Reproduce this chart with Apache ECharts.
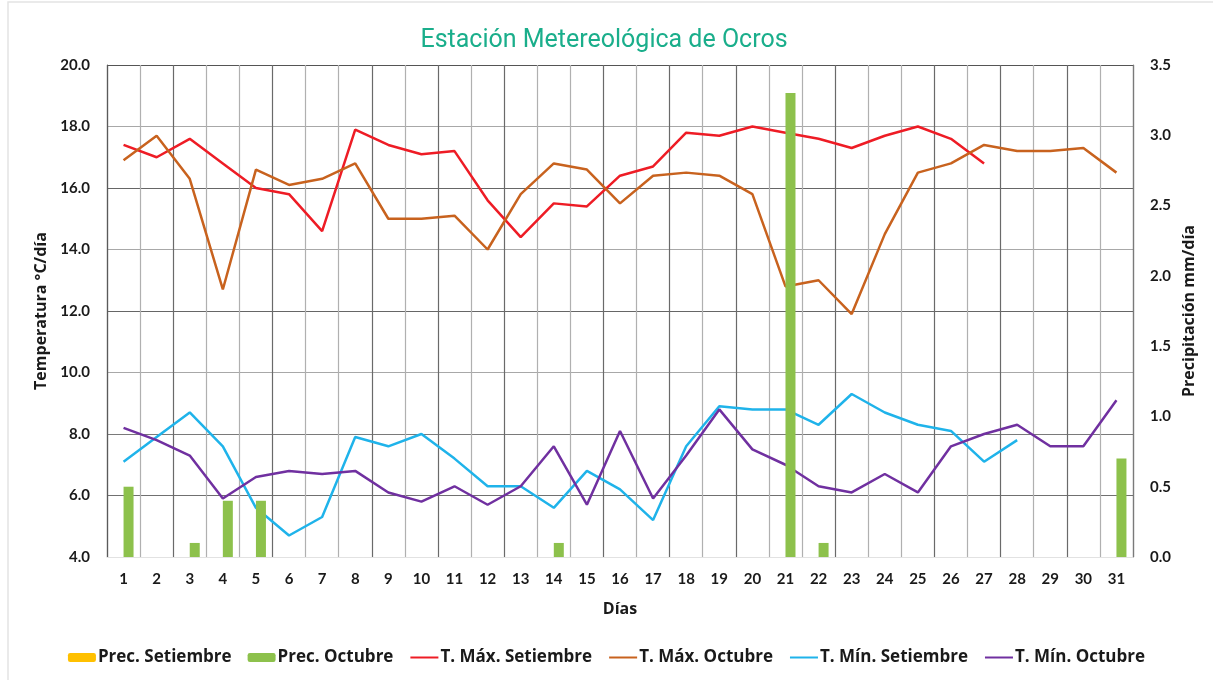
<!DOCTYPE html>
<html>
<head>
<meta charset="utf-8">
<title>Estación Metereológica de Ocros</title>
<script src="https://cdn.jsdelivr.net/npm/echarts@6/dist/echarts.min.js"></script>
<style>
  html, body { margin: 0; padding: 0; background: #fff; }
  #chart { width: 1213px; height: 680px; }
</style>
</head>
<body>
<div id="chart"></div>
<script>
// días del mes
const dias = ['1', '2', '3', '4', '5', '6', '7', '8', '9', '10', '11', '12', '13', '14', '15', '16',
  '17', '18', '19', '20', '21', '22', '23', '24', '25', '26', '27', '28', '29', '30', '31']

// precipitación mm/día
const precSetiembre = [0, 0, 0, 0, 0, 0, 0, 0, 0, 0, 0, 0, 0, 0, 0, 0,
  0, 0, 0, 0, 0, 0, 0, 0, 0, 0, 0, 0, 0, 0, 0]
const precOctubre = [0.5, 0, 0.1, 0.4, 0.4, 0, 0, 0, 0, 0, 0, 0, 0, 0.1, 0, 0,
  0, 0, 0, 0, 3.3, 0.1, 0, 0, 0, 0, 0, 0, 0, 0, 0.7]

// temperatura °C/día
const tMaxSetiembre = [17.4, 17.0, 17.6, 16.8, 16.0, 15.8, 14.6, 17.9, 17.4, 17.1, 17.2, 15.6, 14.4, 15.5, 15.4, 16.4,
  16.7, 17.8, 17.7, 18.0, 17.8, 17.6, 17.3, 17.7, 18.0, 17.6, 16.8, null, null, null, null]
const tMaxOctubre = [16.9, 17.7, 16.3, 12.7, 16.6, 16.1, 16.3, 16.8, 15.0, 15.0, 15.1, 14.0, 15.8, 16.8, 16.6, 15.5,
  16.4, 16.5, 16.4, 15.8, 12.8, 13.0, 11.9, 14.5, 16.5, 16.8, 17.4, 17.2, 17.2, 17.3, 16.5]
const tMinSetiembre = [7.1, 7.9, 8.7, 7.6, 5.6, 4.7, 5.3, 7.9, 7.6, 8.0, 7.2, 6.3, 6.3, 5.6, 6.8, 6.2,
  5.2, 7.6, 8.9, 8.8, 8.8, 8.3, 9.3, 8.7, 8.3, 8.1, 7.1, 7.8, null, null, null]
const tMinOctubre = [8.2, 7.8, 7.3, 5.9, 6.6, 6.8, 6.7, 6.8, 6.1, 5.8, 6.3, 5.7, 6.3, 7.6, 5.7, 8.1,
  5.9, 7.3, 8.8, 7.5, 7.0, 6.3, 6.1, 6.7, 6.1, 7.6, 8.0, 8.3, 7.6, 7.6, 9.1]

const fuente = 'Lato, "Open Sans", sans-serif'
const fuenteAncha = '"Open Sans", Lato, sans-serif'

// líneas verticales: unas más oscuras que otras, como en la imagen
const oscuras = [0, 2, 5, 8, 10, 12, 15, 17, 19, 22, 25, 27, 29, 31]
const coloresV = []
for (let i = 0; i <= 31; i++) {
  coloresV.push(oscuras.indexOf(i) >= 0 ? '#6a6a6a' : '#b0b0b0')
}

const chart = echarts.init(document.getElementById('chart'))

function linea(nombre, datos, color) {
  return {
    name: nombre,
    type: 'line',
    yAxisIndex: 0,
    data: datos,
    symbol: 'none',
    connectNulls: false,
    lineStyle: { color: color, width: 2.5 },
    itemStyle: { color: color },
    z: 2
  }
}

// en la leyenda las líneas van sin punto
const sinPunto = { opacity: 0 }

chart.setOption({
  animation: false,
  backgroundColor: '#fff',
  graphic: [{
    type: 'rect',
    shape: { x: 8, y: 2, width: 1220, height: 700 },
    style: { fill: 'none', stroke: '#e4e4e4', lineWidth: 1.5 },
    silent: true
  }],
  title: {
    text: 'Estación Metereológica de Ocros',
    left: 599,
    textAlign: 'center',
    top: 23,
    textStyle: { color: '#1aae8b', fontSize: 25, fontWeight: 'normal', fontFamily: 'Roboto, sans-serif' }
  },
  legend: {
    bottom: 9,
    left: 'center',
    itemWidth: 28,
    itemHeight: 9,
    itemGap: 16,
    data: [
      { name: 'Prec. Setiembre' },
      { name: 'Prec. Octubre' },
      { name: 'T. Máx. Setiembre', itemStyle: sinPunto },
      { name: 'T. Máx. Octubre', itemStyle: sinPunto },
      { name: 'T. Mín. Setiembre', itemStyle: sinPunto },
      { name: 'T. Mín. Octubre', itemStyle: sinPunto }
    ],
    textStyle: { color: '#1a1a1a', fontSize: 17, fontWeight: 'bold', fontFamily: fuenteAncha, padding: [0, 0, 0, -3] }
  },
  grid: { left: 107, right: 80, top: 65, bottom: 123 },
  xAxis: {
    type: 'category',
    data: dias,
    name: 'Días',
    nameLocation: 'middle',
    nameGap: 44,
    nameTextStyle: { color: '#1a1a1a', fontSize: 16, fontWeight: 'bold', fontFamily: fuenteAncha },
    axisLine: { lineStyle: { color: '#e2e2e2' } },
    axisTick: { show: false },
    axisLabel: { color: '#1a1a1a', fontSize: 15, fontWeight: 'bold', fontFamily: fuente, margin: 15 },
    splitLine: { show: true, interval: 0, lineStyle: { color: coloresV, width: 1.2 } }
  },
  yAxis: [{
    type: 'value',
    min: 4,
    max: 20,
    interval: 2,
    name: 'Temperatura °C/día',
    nameLocation: 'middle',
    nameRotate: 90,
    nameGap: 57,
    nameTextStyle: { color: '#1a1a1a', fontSize: 16, fontWeight: 'bold', fontFamily: fuenteAncha },
    axisLine: { show: true, lineStyle: { color: '#5a5a5a', width: 1.2 } },
    axisTick: { show: false },
    axisLabel: {
      color: '#1a1a1a', fontSize: 15, fontWeight: 'bold', fontFamily: fuente, margin: 17,
      formatter: v => v.toFixed(1)
    },
    splitLine: {
      show: true,
      lineStyle: { color: ['#e6e6e6', '#707070', '#7a7a7a', '#a8a8a8', '#666', '#a8a8a8', '#666', '#a8a8a8', '#555'], width: 1.2 }
    }
  }, {
    type: 'value',
    min: 0,
    max: 3.5,
    interval: 0.5,
    name: 'Precipitación mm/día',
    nameLocation: 'middle',
    nameRotate: 90,
    nameGap: 46,
    nameTextStyle: { color: '#1a1a1a', fontSize: 16, fontWeight: 'bold', fontFamily: fuenteAncha },
    axisLine: { show: true, lineStyle: { color: '#7a7a7a', width: 1.2 } },
    axisTick: { show: false },
    axisLabel: {
      color: '#1a1a1a', fontSize: 15, fontWeight: 'bold', fontFamily: fuente, margin: 17,
      formatter: v => v.toFixed(1)
    },
    splitLine: { show: false }
  }],
  series: [
    {
      name: 'Prec. Setiembre',
      type: 'bar',
      yAxisIndex: 1,
      data: precSetiembre,
      barWidth: 10,
      barGap: '0%',
      itemStyle: { color: '#ffc000' },
      z: 3
    },
    {
      name: 'Prec. Octubre',
      type: 'bar',
      yAxisIndex: 1,
      data: precOctubre,
      barWidth: 10,
      barGap: '0%',
      itemStyle: { color: '#8dc14c' },
      z: 3
    },
    linea('T. Máx. Setiembre', tMaxSetiembre, '#ee1c25'),
    linea('T. Máx. Octubre', tMaxOctubre, '#c8621e'),
    linea('T. Mín. Setiembre', tMinSetiembre, '#1fb3ea'),
    linea('T. Mín. Octubre', tMinOctubre, '#7030a0')
  ]
})
</script>
</body>
</html>
